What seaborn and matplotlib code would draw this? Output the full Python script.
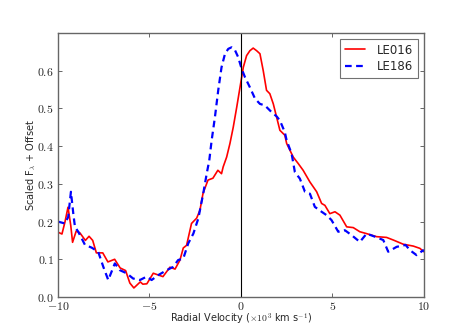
import numpy as np
import pandas as pd
import seaborn as sns
import matplotlib
matplotlib.use("Agg")
import matplotlib.pyplot as plt
from matplotlib.ticker import FuncFormatter

# LE016 (red, solid)
le016_v = [-10.0, -9.78, -9.62, -9.45, -9.3, -9.2, -9.0, -8.8, -8.5, -8.3, -8.1, -7.9,
           -7.55, -7.27, -6.9, -6.6, -6.3, -6.07, -5.85, -5.5, -5.36, -5.14, -4.79, -4.26,
           -3.88, -3.6, -3.33, -3.15, -2.97, -2.7, -2.42, -2.24, -2.07, -1.8, -1.53, -1.26,
           -1.06, -0.97, -0.78, -0.6, -0.42, -0.23, -0.05, 0.13, 0.31, 0.49, 0.67, 0.86,
           1.04, 1.22, 1.4, 1.58, 1.77, 1.95, 2.13, 2.4, 2.5, 2.86, 3.13, 3.4, 3.77, 4.14,
           4.41, 4.59, 4.86, 5.14, 5.41, 5.78, 6.14, 6.5, 6.87, 7.41, 7.96, 8.33, 8.87,
           9.42, 9.78, 10.0]
le016_f = [0.172, 0.167, 0.198, 0.238, 0.19, 0.145, 0.175, 0.17, 0.15, 0.161, 0.15, 0.117,
           0.117, 0.093, 0.1, 0.077, 0.07, 0.037, 0.024, 0.04, 0.034, 0.035, 0.063, 0.054,
           0.079, 0.074, 0.098, 0.13, 0.137, 0.195, 0.209, 0.23, 0.275, 0.31, 0.315, 0.336,
           0.327, 0.345, 0.371, 0.407, 0.45, 0.503, 0.556, 0.609, 0.64, 0.653, 0.66, 0.653,
           0.645, 0.6, 0.548, 0.539, 0.512, 0.477, 0.442, 0.429, 0.407, 0.371, 0.354, 0.336,
           0.305, 0.279, 0.248, 0.243, 0.221, 0.226, 0.217, 0.186, 0.184, 0.173, 0.168,
           0.16, 0.158, 0.151, 0.14, 0.135, 0.129, 0.12]

# LE186 (blue, dashed)
le186_v = [-10.0, -9.93, -9.62, -9.44, -9.29, -9.16, -9.07, -8.89, -8.52, -8.16, -7.8,
           -7.52, -7.25, -6.89, -6.61, -6.25, -5.89, -5.52, -5.15, -4.88, -4.52, -4.06,
           -3.7, -3.43, -3.15, -2.88, -2.6, -2.33, -2.06, -1.87, -1.73, -1.6, -1.42, -1.24,
           -1.06, -0.87, -0.69, -0.51, -0.33, -0.15, 0.04, 0.22, 0.49, 0.77, 1.04, 1.31,
           1.68, 1.95, 2.13, 2.4, 2.5, 2.77, 2.95, 3.22, 3.5, 3.77, 4.04, 4.41, 4.68, 4.95,
           5.32, 5.68, 6.05, 6.5, 6.87, 7.32, 7.78, 8.05, 8.51, 9.0, 9.24, 9.6, 9.96, 10.0]
le186_f = [0.2, 0.199, 0.195, 0.212, 0.279, 0.221, 0.186, 0.173, 0.138, 0.131, 0.12,
           0.08, 0.045, 0.089, 0.071, 0.063, 0.049, 0.045, 0.054, 0.045, 0.058, 0.071,
           0.08, 0.098, 0.102, 0.142, 0.168, 0.208, 0.274, 0.327, 0.362, 0.415, 0.477, 0.548,
           0.609, 0.645, 0.658, 0.662, 0.655, 0.636, 0.605, 0.583, 0.556, 0.526, 0.512, 0.508,
           0.49, 0.479, 0.468, 0.437, 0.415, 0.38, 0.331, 0.314, 0.279, 0.274, 0.239, 0.226,
           0.217, 0.204, 0.173, 0.177, 0.164, 0.146, 0.168, 0.16, 0.151, 0.12, 0.133, 0.138,
           0.124, 0.111, 0.124, 0.12]

x_ticks = [-10, -5, 0, 5, 10]
y_ticks = [0.0, 0.1, 0.2, 0.3, 0.4, 0.5, 0.6]

sns.set_style("white")
plt.rcParams["font.family"] = ["DejaVu Sans"]
plt.rcParams["mathtext.fontset"] = "cm"

df1 = pd.DataFrame({"v": le016_v, "f": le016_f})
df2 = pd.DataFrame({"v": le186_v, "f": le186_f})

fig = plt.figure(figsize=(4.71, 3.30), dpi=100)
ax = fig.add_axes([0.123, 0.1, 0.777, 0.8])

sns.lineplot(data=df1, x="v", y="f", color="red", linewidth=1.2, label="LE016", ax=ax)
sns.lineplot(data=df2, x="v", y="f", color="blue", linewidth=1.6, linestyle="--",
             label="LE186", ax=ax)
ax.lines[1].set_dashes((3, 2))
ax.axvline(0, color="black", linewidth=0.8)

ax.set_xlim(-10, 10)
ax.set_ylim(0, 0.7)
ax.set_xticks(x_ticks)
ax.set_yticks(y_ticks)
ax.xaxis.set_major_formatter(FuncFormatter(lambda v, p: f"${v:g}$"))
ax.yaxis.set_major_formatter(FuncFormatter(lambda v, p: f"${v:.1f}$"))
ax.tick_params(direction="in", length=3, width=0.6, color="0.3", top=True, right=True,
               bottom=True, left=True, labelsize=8.5)
ax.tick_params(axis="x", pad=2)
ax.tick_params(axis="y", pad=3)
for s in ax.spines.values():
    s.set_color("0.4")
    s.set_linewidth(1.0)

ax.set_xlabel(r"Radial Velocity ($\times 10^3$ km s$^{-1}$)", fontsize=7, labelpad=-1)
ax.set_ylabel(r"Scaled F$_\lambda$ + Offset", fontsize=7, labelpad=-1)

leg = ax.legend(loc="upper right", fontsize=8.5, frameon=True, fancybox=False,
                handlelength=1.7, borderpad=0.4, labelspacing=0.3, handletextpad=1.0)
leg.get_frame().set_edgecolor("0.3")
leg.get_frame().set_linewidth(0.8)

fig.savefig("out.png", dpi=100)
